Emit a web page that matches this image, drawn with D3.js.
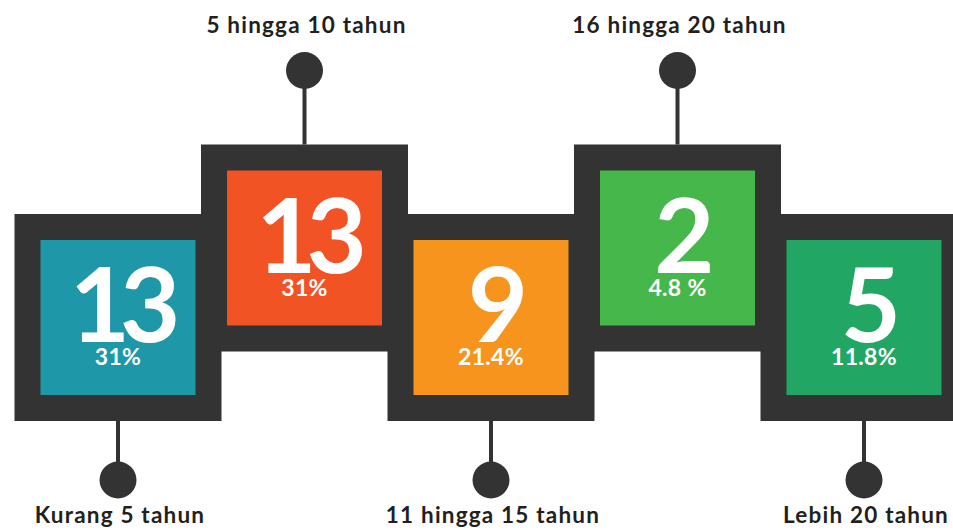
<!DOCTYPE html>
<html>
<head>
<meta charset="utf-8">
<script src="https://cdn.jsdelivr.net/npm/d3@7/dist/d3.min.js"></script>
<style>
  html, body { margin: 0; padding: 0; background: #ffffff; }
  svg { display: block; }
</style>
</head>
<body>
<div id="chart"></div>
<script>
// ---- data ----
const categories = ["Kurang 5 tahun", "5 hingga 10 tahun", "11 hingga 15 tahun", "16 hingga 20 tahun", "Lebih 20 tahun"];
const counts = [13, 13, 9, 2, 5];
const pctLabels = ["31%", "31%", "21.4%", "4.8 %", "11.8%"];
const sides = ["bottom", "top", "bottom", "top", "bottom"];
const colors = ["#1e97a8", "#f15325", "#f7941e", "#46b74a", "#21a763"];

const W = 953, H = 530;
const outer = 207, border = 26, inner = outer - 2 * border;
const dark = "#333333";

const svg = d3.select("#chart").append("svg")
  .attr("width", W).attr("height", H)
  .attr("viewBox", `0 0 ${W} ${H}`);

const x = d3.scalePoint().domain(d3.range(categories.length)).range([118, 864]);
const boxTop = d3.scaleOrdinal().domain(["bottom", "top"]).range([214, 144.5]);
const circleY = d3.scaleOrdinal().domain(["bottom", "top"]).range([480, 70.5]);
const labelY = d3.scaleOrdinal().domain(["bottom", "top"]).range([523, 33]);

const data = categories.map((c, i) => ({
  cat: c, count: counts[i], pct: pctLabels[i], side: sides[i], color: colors[i], i
}));

// stems + circles
const conn = svg.append("g");
conn.selectAll("line").data(data).join("line")
  .attr("x1", d => x(d.i)).attr("x2", d => x(d.i))
  .attr("y1", d => d.side === "top" ? boxTop(d.side) : boxTop(d.side) + outer)
  .attr("y2", d => circleY(d.side))
  .attr("stroke", dark).attr("stroke-width", 4);
conn.selectAll("circle").data(data).join("circle")
  .attr("cx", d => x(d.i)).attr("cy", d => circleY(d.side))
  .attr("r", 18.5).attr("fill", dark);

// outer dark frames
svg.append("g").selectAll("rect").data(data).join("rect")
  .attr("x", d => x(d.i) - outer / 2).attr("y", d => boxTop(d.side))
  .attr("width", outer).attr("height", outer).attr("fill", dark);

// inner coloured squares
const cells = svg.append("g").selectAll("g").data(data).join("g")
  .attr("transform", d => `translate(${x(d.i) - inner / 2},${boxTop(d.side) + border})`);
cells.append("rect").attr("width", inner).attr("height", inner).attr("fill", d => d.color);
cells.append("text")
  .attr("x", inner / 2 + 2).attr("y", 102)
  .attr("text-anchor", "middle")
  .attr("fill", "#ffffff")
  .style("font-family", "Lato, sans-serif").style("font-weight", 700)
  .style("font-size", "104px").style("letter-spacing", "-10px")
  .text(d => d.count);
cells.append("text")
  .attr("x", inner / 2).attr("y", 125)
  .attr("text-anchor", "middle")
  .attr("fill", "#ffffff")
  .style("font-family", "Lato, sans-serif").style("font-weight", 700)
  .style("font-size", "23px").style("letter-spacing", "0.3px")
  .text(d => d.pct);

// category labels
svg.append("g").selectAll("text").data(data).join("text")
  .attr("x", d => x(d.i) + 2).attr("y", d => labelY(d.side))
  .attr("text-anchor", "middle")
  .attr("fill", "#231f20")
  .style("font-family", "Lato, sans-serif").style("font-weight", 700)
  .style("font-size", "22.5px").style("letter-spacing", "1.2px")
  .text(d => d.cat);
</script>
</body>
</html>
